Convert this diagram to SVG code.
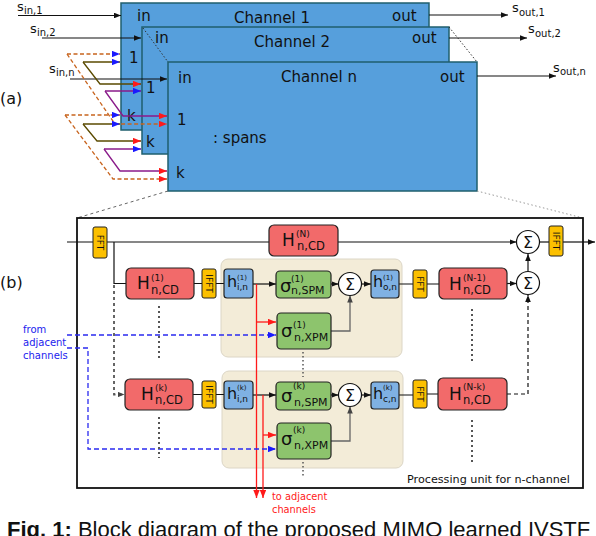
<svg xmlns="http://www.w3.org/2000/svg" width="596" height="536" viewBox="0 0 596 536">
<style>
.t{font-family:"DejaVu Sans",Verdana,sans-serif;fill:#111}
.ch{fill:#569fdc;stroke:#1f5f6e;stroke-width:1.5}
.hb{fill:#f26a6a;stroke:#222;stroke-width:1.2}
.gb{fill:#8dc46d;stroke:#222;stroke-width:1.2}
.bb{fill:#7fb1e3;stroke:#222;stroke-width:1.2}
.fb{fill:#fcc000;stroke:#222;stroke-width:1}
.pan{fill:#f3ecd8;stroke:#dcd6c6;stroke-width:1}
.sg{fill:#fff;stroke:#111;stroke-width:1.2}
.ln{stroke:#111;stroke-width:1.2;fill:none}
.gl{stroke:#666;stroke-width:1.3;fill:none}
.or{stroke:#c8641e;stroke-width:1.3;stroke-dasharray:4 2.5;fill:none}
.ol{stroke:#5a4a00;stroke-width:1.3;fill:none}
.pu{stroke:#8a1a8a;stroke-width:1.3;fill:none}
.rd{stroke:#ff1a1a;stroke-width:1.3;fill:none}
.bd{stroke:#2a2af0;stroke-width:1.3;stroke-dasharray:5 3;fill:none}
.dot{stroke:#555;stroke-width:2;stroke-dasharray:2 3;fill:none}
.ft{font-size:9px;text-anchor:middle}
.H{font-size:17px}
.sup{font-size:9px}
.sub{font-size:11.5px}
</style>
<defs>
<marker id="ak" viewBox="0 0 10 8" refX="10" refY="4" markerWidth="7" markerHeight="5.6" markerUnits="userSpaceOnUse" orient="auto"><path d="M0,0L10,4L0,8z" fill="#111"/></marker>
<marker id="ag" viewBox="0 0 10 8" refX="10" refY="4" markerWidth="7" markerHeight="5.6" markerUnits="userSpaceOnUse" orient="auto"><path d="M0,0L10,4L0,8z" fill="#444"/></marker>
<marker id="ar" viewBox="0 0 10 8" refX="10" refY="4" markerWidth="8" markerHeight="6.4" markerUnits="userSpaceOnUse" orient="auto"><path d="M0,0L10,4L0,8z" fill="#ff1a1a"/></marker>
<marker id="ab" viewBox="0 0 10 8" refX="10" refY="4" markerWidth="8" markerHeight="6.4" markerUnits="userSpaceOnUse" orient="auto"><path d="M0,0L10,4L0,8z" fill="#1a1aff"/></marker>
</defs>

<!-- (a) -->
<text class="t" x="0" y="104" font-size="16">(a)</text>
<g id="ch1">
<rect class="ch" x="121" y="3" width="308" height="127"/>
<text class="t" x="137" y="21" font-size="15">in</text>
<text class="t" x="272" y="23" font-size="15" text-anchor="middle">Channel 1</text>
<text class="t" x="392" y="21" font-size="15">out</text>
<text class="t" x="129" y="63" font-size="15">1</text>
<text class="t" x="127" y="121" font-size="15">k</text>
</g>
<g id="ch2">
<rect class="ch" x="142" y="27" width="307" height="127"/>
<text class="t" x="155" y="43" font-size="15">in</text>
<text class="t" x="292" y="47" font-size="15" text-anchor="middle">Channel 2</text>
<text class="t" x="412" y="43" font-size="15">out</text>
<text class="t" x="146" y="93" font-size="15">1</text>
<text class="t" x="146" y="147" font-size="15">k</text>
</g>
<g id="chn">
<rect class="ch" x="168" y="62" width="309" height="129"/>
<text class="t" x="178" y="83" font-size="15">in</text>
<text class="t" x="319" y="82" font-size="15" text-anchor="middle">Channel n</text>
<text class="t" x="440" y="82" font-size="15">out</text>
<text class="t" x="177" y="125" font-size="15">1</text>
<text class="t" x="176" y="178" font-size="15">k</text>
<text class="t" x="213" y="143" font-size="15">: spans</text>
</g>
<g id="io-labels">
<text class="t" x="17" y="11" font-size="13">s</text><text class="t" x="24" y="14" font-size="10">in,1</text>
<text class="t" x="30" y="33" font-size="13">s</text><text class="t" x="37" y="36" font-size="10">in,2</text>
<text class="t" x="49" y="73" font-size="13">s</text><text class="t" x="56" y="76" font-size="10">in,n</text>
<text class="t" x="512" y="12" font-size="13">s</text><text class="t" x="519" y="16" font-size="10">out,1</text>
<text class="t" x="528" y="33" font-size="13">s</text><text class="t" x="535" y="37" font-size="10">out,2</text>
<text class="t" x="553" y="72" font-size="13">s</text><text class="t" x="560" y="75" font-size="10">out,n</text>
</g>
<g id="connectors-a">
<path class="ln" d="M18,15.5H121" marker-end="url(#ak)"/>
<path class="ln" d="M42,38H141" marker-end="url(#ak)"/>
<path class="ln" d="M70,79H167" marker-end="url(#ak)"/>
<path class="ln" d="M429,15H508" marker-end="url(#ak)"/>
<path class="ln" d="M449,38H527" marker-end="url(#ak)"/>
<path class="ln" d="M477,76H556" marker-end="url(#ak)"/>
<path d="M143,28L168,62" stroke="#333" stroke-width="1" stroke-dasharray="1.5 2" fill="none"/>
<path d="M449,27L477,62" stroke="#333" stroke-width="1" stroke-dasharray="1.5 2" fill="none"/>
<path d="M168,191L77,218" stroke="#666" stroke-width="1" stroke-dasharray="3 3" fill="none"/>
<path d="M477,191L583,218" stroke="#999" stroke-width="1" stroke-dasharray="1.5 2.5" fill="none"/>
<!-- group 1 -->
<path class="or" d="M67,54H120" marker-end="url(#ab)"/>
<path class="or" d="M67,54L115,124H167" marker-end="url(#ar)"/>
<path class="ol" d="M83,62H120" marker-end="url(#ab)"/>
<path class="ol" d="M83,62L100,84H141" marker-end="url(#ar)"/>
<path class="pu" d="M105,91H141" marker-end="url(#ab)"/>
<path class="pu" d="M105,91L123,116H167" marker-end="url(#ar)"/>
<!-- group 2 -->
<path class="or" d="M65,115H120" marker-end="url(#ab)"/>
<path class="or" d="M65,115L113,179H167" marker-end="url(#ar)"/>
<path class="ol" d="M83,124H120" marker-end="url(#ab)"/>
<path class="ol" d="M83,124L97,141H141" marker-end="url(#ar)"/>
<path class="pu" d="M104,149H141" marker-end="url(#ab)"/>
<path class="pu" d="M104,149L120,171H167" marker-end="url(#ar)"/>
</g>

<!-- (b) -->
<text class="t" x="0" y="288" font-size="16">(b)</text>
<g id="unit-box"><rect x="77" y="218" width="506" height="270" fill="none" stroke="#111" stroke-width="1.8"/>
<text class="t" x="407" y="483" font-size="11.2">Processing unit for n-channel</text></g>
<g id="panel1"><rect class="pan" x="221" y="259" width="181" height="98" rx="7"/></g>
<g id="panel2"><rect class="pan" x="222" y="371" width="181" height="97" rx="7"/></g>

<g id="connectors-b">
<path class="ln" d="M67,242H93M107,242H269"/>
<path class="ln" d="M338,242H516.5" marker-end="url(#ak)"/>
<path class="ln" d="M539.5,242H549"/>
<path class="ln" d="M563,242H595" marker-end="url(#ak)"/>
<path class="ln" d="M528,271.5V254" marker-end="url(#ak)"/>
<path class="ln" d="M114,242V283.5H126"/>
<path class="ln" d="M194,283.5H202M216,283.5H224"/>
<path class="ln" d="M253,284H276" marker-end="url(#ak)"/>
<path class="ln" d="M331,284H338.5" marker-end="url(#ak)"/>
<path class="ln" d="M361.5,284H371" marker-end="url(#ak)"/>
<path class="ln" d="M399,284H413M427,284H439"/>
<path class="ln" d="M507,283.5H516.5" marker-end="url(#ak)"/>
<path class="gl" d="M331,331H350V295.5" marker-end="url(#ag)"/>
<path d="M114,285V394.5H124.5" stroke="#555" stroke-width="1.8" stroke-dasharray="3 3" fill="none" marker-end="url(#ag)"/>
<path class="ln" d="M193,394.5H202M216,394.5H224"/>
<path class="ln" d="M253,395H276" marker-end="url(#ak)"/>
<path class="ln" d="M331,395H338.5" marker-end="url(#ak)"/>
<path class="ln" d="M361.5,395H371" marker-end="url(#ak)"/>
<path class="ln" d="M399,395H413M427,394H438"/>
<path class="gl" d="M331,441H350V406.5" marker-end="url(#ag)"/>
<path d="M507,394H528V295" stroke="#111" stroke-width="1.2" stroke-dasharray="4 3" fill="none" marker-end="url(#ak)"/>
<path class="rd" d="M256.5,284V498" marker-end="url(#ar)"/>
<path class="rd" d="M256.5,322H276" marker-end="url(#ar)"/>
<path class="rd" d="M263,395V498" marker-end="url(#ar)"/>
<path class="rd" d="M263,435H276" marker-end="url(#ar)"/>
<path class="bd" d="M67,335H276" marker-end="url(#ab)"/>
<path class="bd" d="M67,348H88V449H276" marker-end="url(#ab)"/>
<path class="dot" d="M159,306V360M159,417V458M472,309V363M472,420V462"/>
<path d="M303,352V377M303,462V476" stroke="#555" stroke-width="1.5" stroke-dasharray="1.5 2.5" fill="none"/>
</g>

<g id="fft-in"><rect class="fb" x="93" y="227" width="14" height="31" rx="2"/><text class="t ft" transform="translate(100,242.5) rotate(90)" dy="3.2">FFT</text></g>
<g id="H-N"><rect class="hb" x="269" y="225" width="69" height="31" rx="5"/>
<text class="t H" x="282" y="246">H</text><text class="t sup" x="296" y="237">(N)</text><text class="t sub" x="297" y="250">n,CD</text></g>
<g id="sum-out"><circle class="sg" cx="528" cy="242" r="11.5"/><text class="t" x="528" y="247.5" font-size="16" text-anchor="middle">Σ</text></g>
<g id="ifft-out"><rect class="fb" x="549" y="226" width="14" height="30" rx="2"/><text class="t ft" transform="translate(556,241) rotate(90)" dy="3.2">IFFT</text></g>
<g id="sum-2"><circle class="sg" cx="528" cy="283" r="11.5"/><text class="t" x="528" y="288.5" font-size="16" text-anchor="middle">Σ</text></g>

<g id="H-1"><rect class="hb" x="126" y="268" width="68" height="31" rx="5"/>
<text class="t H" x="137" y="289">H</text><text class="t sup" x="151" y="281">(1)</text><text class="t sub" x="151" y="294">n,CD</text></g>
<g id="ifft-1"><rect class="fb" x="202" y="269" width="14" height="29" rx="2"/><text class="t ft" transform="translate(209,283.5) rotate(90)" dy="3.2">IFFT</text></g>
<g id="hi-1"><rect class="bb" x="224" y="269" width="29" height="29" rx="3"/>
<text class="t" x="227" y="287" font-size="16">h</text><text class="t" x="237" y="280" font-size="7">(1)</text><text class="t" x="237" y="290" font-size="9">i,n</text></g>
<g id="spm-1"><rect class="gb" x="276" y="271" width="55" height="27" rx="4"/>
<text class="t" x="280" y="292" font-size="18">σ</text><text class="t sup" x="291" y="282">(1)</text><text class="t" x="291" y="294" font-size="11">n,SPM</text></g>
<g id="xpm-1"><rect class="gb" x="277" y="313" width="54" height="36" rx="4"/>
<text class="t" x="281" y="337" font-size="18">σ</text><text class="t sup" x="293" y="328">(1)</text><text class="t" x="294" y="341" font-size="11">n,XPM</text></g>
<g id="sum-1"><circle class="sg" cx="350" cy="284" r="11.5"/><text class="t" x="350" y="289.5" font-size="16" text-anchor="middle">Σ</text></g>
<g id="ho-1"><rect class="bb" x="371" y="270" width="28" height="28" rx="3"/>
<text class="t" x="373" y="287" font-size="16">h</text><text class="t" x="383" y="280" font-size="7">(1)</text><text class="t" x="383" y="290" font-size="9">o,n</text></g>
<g id="fft-1"><rect class="fb" x="413" y="270" width="14" height="28" rx="2"/><text class="t ft" transform="translate(420,284) rotate(90)" dy="3.2">FFT</text></g>
<g id="H-N1"><rect class="hb" x="439" y="268" width="68" height="31" rx="5"/>
<text class="t H" x="449" y="290">H</text><text class="t sup" x="463" y="281">(N-1)</text><text class="t sub" x="463" y="294">n,CD</text></g>

<g id="H-k"><rect class="hb" x="125" y="379" width="68" height="31" rx="5"/>
<text class="t H" x="141" y="400">H</text><text class="t sup" x="155" y="391">(k)</text><text class="t sub" x="155" y="404">n,CD</text></g>
<g id="ifft-k"><rect class="fb" x="202" y="381" width="14" height="27" rx="2"/><text class="t ft" transform="translate(209,394.5) rotate(90)" dy="3.2">IFFT</text></g>
<g id="hi-k"><rect class="bb" x="224" y="381" width="29" height="28" rx="3"/>
<text class="t" x="227" y="399" font-size="16">h</text><text class="t" x="237" y="390" font-size="7">(k)</text><text class="t" x="237" y="402" font-size="9">i,n</text></g>
<g id="spm-k"><rect class="gb" x="276" y="382" width="55" height="28" rx="4"/>
<text class="t" x="281" y="402" font-size="18">σ</text><text class="t sup" x="293" y="389">(k)</text><text class="t" x="294" y="406" font-size="11">n,SPM</text></g>
<g id="xpm-k"><rect class="gb" x="277" y="423" width="54" height="36" rx="4"/>
<text class="t" x="281" y="445" font-size="18">σ</text><text class="t sup" x="293" y="433">(k)</text><text class="t" x="294" y="449" font-size="11">n,XPM</text></g>
<g id="sum-k"><circle class="sg" cx="350" cy="395" r="11.5"/><text class="t" x="350" y="400.5" font-size="16" text-anchor="middle">Σ</text></g>
<g id="ho-k"><rect class="bb" x="371" y="382" width="28" height="27" rx="3"/>
<text class="t" x="373" y="399" font-size="16">h</text><text class="t" x="383" y="390" font-size="7">(k)</text><text class="t" x="383" y="402" font-size="9">c,n</text></g>
<g id="fft-k"><rect class="fb" x="413" y="380" width="14" height="28" rx="2"/><text class="t ft" transform="translate(420,394) rotate(90)" dy="3.2">FFT</text></g>
<g id="H-Nk"><rect class="hb" x="438" y="378" width="69" height="32" rx="5"/>
<text class="t H" x="449" y="400">H</text><text class="t sup" x="463" y="390">(N-k)</text><text class="t sub" x="463" y="404">n,CD</text></g>

<g id="labels">
<text class="t" x="23" y="333" font-size="10" style="fill:#2222ee">from</text>
<text class="t" x="23" y="346" font-size="10" style="fill:#2222ee">adjacent</text>
<text class="t" x="23" y="359" font-size="10" style="fill:#2222ee">channels</text>
<text class="t" x="272" y="500" font-size="9.8" style="fill:#ff2020">to adjacent</text>
<text class="t" x="272" y="513" font-size="9.8" style="fill:#ff2020">channels</text>
</g>
<text x="7" y="537" font-family="'Liberation Sans',Arial,sans-serif" font-size="22" fill="#111"><tspan font-weight="bold">Fig. 1:</tspan> Block diagram of the proposed MIMO learned IVSTF</text>
</svg>
